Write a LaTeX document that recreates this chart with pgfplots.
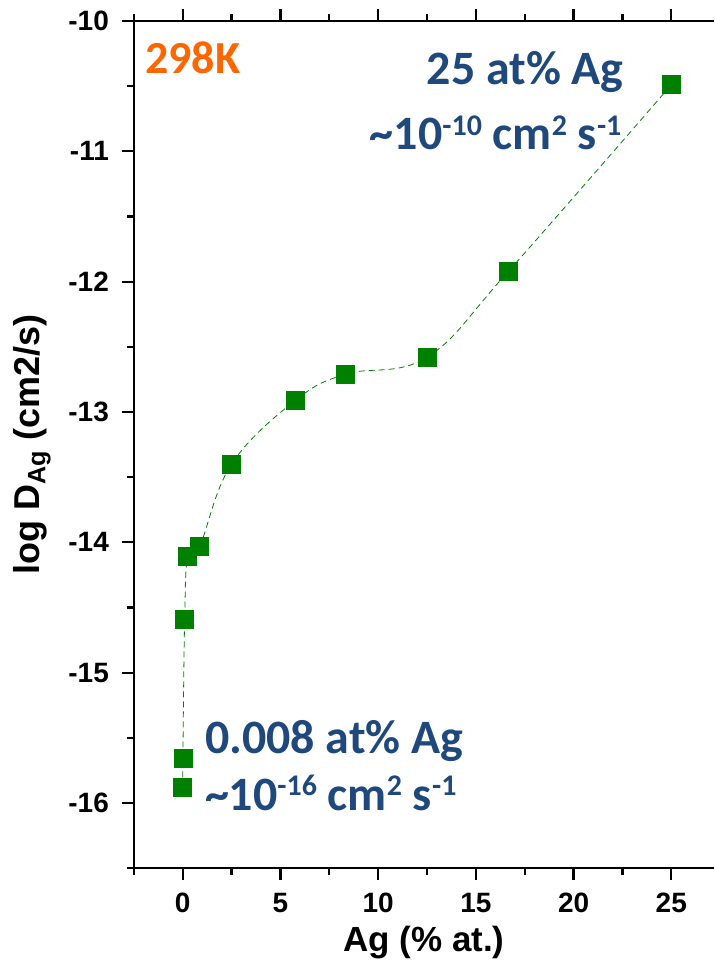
\documentclass[border=0pt]{standalone}
\usepackage{fontspec}
\setmainfont{Liberation Sans}
\newfontfamily\carlito{Carlito}
\usepackage{pgfplots}
\pgfplotsset{compat=1.18}
\definecolor{mgreen}{RGB}{0,128,0}
\definecolor{annblue}{RGB}{31,73,125}
\definecolor{annorange}{RGB}{255,102,0}
\newcommand{\sups}[1]{\raisebox{7.5pt}{\fontsize{15}{16}\selectfont #1}}
\begin{document}
\begin{tikzpicture}
\begin{axis}[
  scale only axis,
  width=290.5pt, height=424pt,
  xmin=-2.5, xmax=27.2,
  ymin=-16.5, ymax=-10,
  axis x line*=box, axis y line*=left,
  xtick={0,5,10,15,20,25},
  minor xtick={-2.5,2.5,7.5,12.5,17.5,22.5},
  ytick={-16,-15,-14,-13,-12,-11,-10},
  minor ytick={-16.5,-15.5,-14.5,-13.5,-12.5,-11.5,-10.5},
  tick align=outside,
  major tick length=6pt, minor tick length=3.5pt,
  axis line style={line width=1.1pt},
  every tick/.style={line width=1.1pt, black},
  /pgf/number format/assume math mode=true,
  ticklabel style={font=\fontsize{14}{16}\selectfont\bfseries},
  xticklabel style={yshift=-3pt},
  yticklabel style={xshift=-3pt},
  xlabel={Ag (\% at.)},
  ylabel={log D\textsubscript{Ag} (cm2/s)},
  xlabel style={font=\fontsize{17.5}{19}\selectfont\bfseries, yshift=0pt},
  ylabel style={font=\fontsize{18}{20}\selectfont\bfseries, yshift=2pt},
  clip=false,
]
\addplot[mgreen, thin, densely dashed, smooth, tension=0.65, mark=square*,
  mark size=4.5pt, mark options={solid, fill=mgreen, draw=mgreen}]
coordinates {
(0.008,-15.88) (0.01,-15.66) (0.1,-14.59) (0.26,-14.11) (0.87,-14.03)
(2.5,-13.40) (5.78,-12.91) (8.33,-12.71) (12.5,-12.58) (16.67,-11.92) (25,-10.49)
};
\node[anchor=base west, inner sep=0, text=annorange, font=\carlito\fontsize{23}{26}\selectfont\bfseries] at (axis cs:-1.94,-10.406) {298K};
\node[anchor=base west, inner sep=0, text=annblue, font=\carlito\fontsize{24}{27}\selectfont\bfseries] at (axis cs:12.47,-10.49) {25 at\% Ag};
\node[anchor=base west, inner sep=0, text=annblue, font=\carlito\fontsize{24}{27}\selectfont\bfseries] at (axis cs:9.56,-10.99) {\char`\~10\sups{-10} cm\sups{2} s\sups{-1}};
\node[anchor=base west, inner sep=0, text=annblue, font=\carlito\fontsize{24}{27}\selectfont\bfseries] at (axis cs:1.12,-15.62) {0.008 at\% Ag};
\node[anchor=base west, inner sep=0, text=annblue, font=\carlito\fontsize{24}{27}\selectfont\bfseries] at (axis cs:1.12,-16.06) {\char`\~10\sups{-16} cm\sups{2} s\sups{-1}};
\end{axis}
\pgfresetboundingbox
\useasboundingbox ([shift={(-67pt,-46.5pt)}]current axis.south west) rectangle ([shift={(0pt,10.5pt)}]current axis.north east);
\end{tikzpicture}
\end{document}
